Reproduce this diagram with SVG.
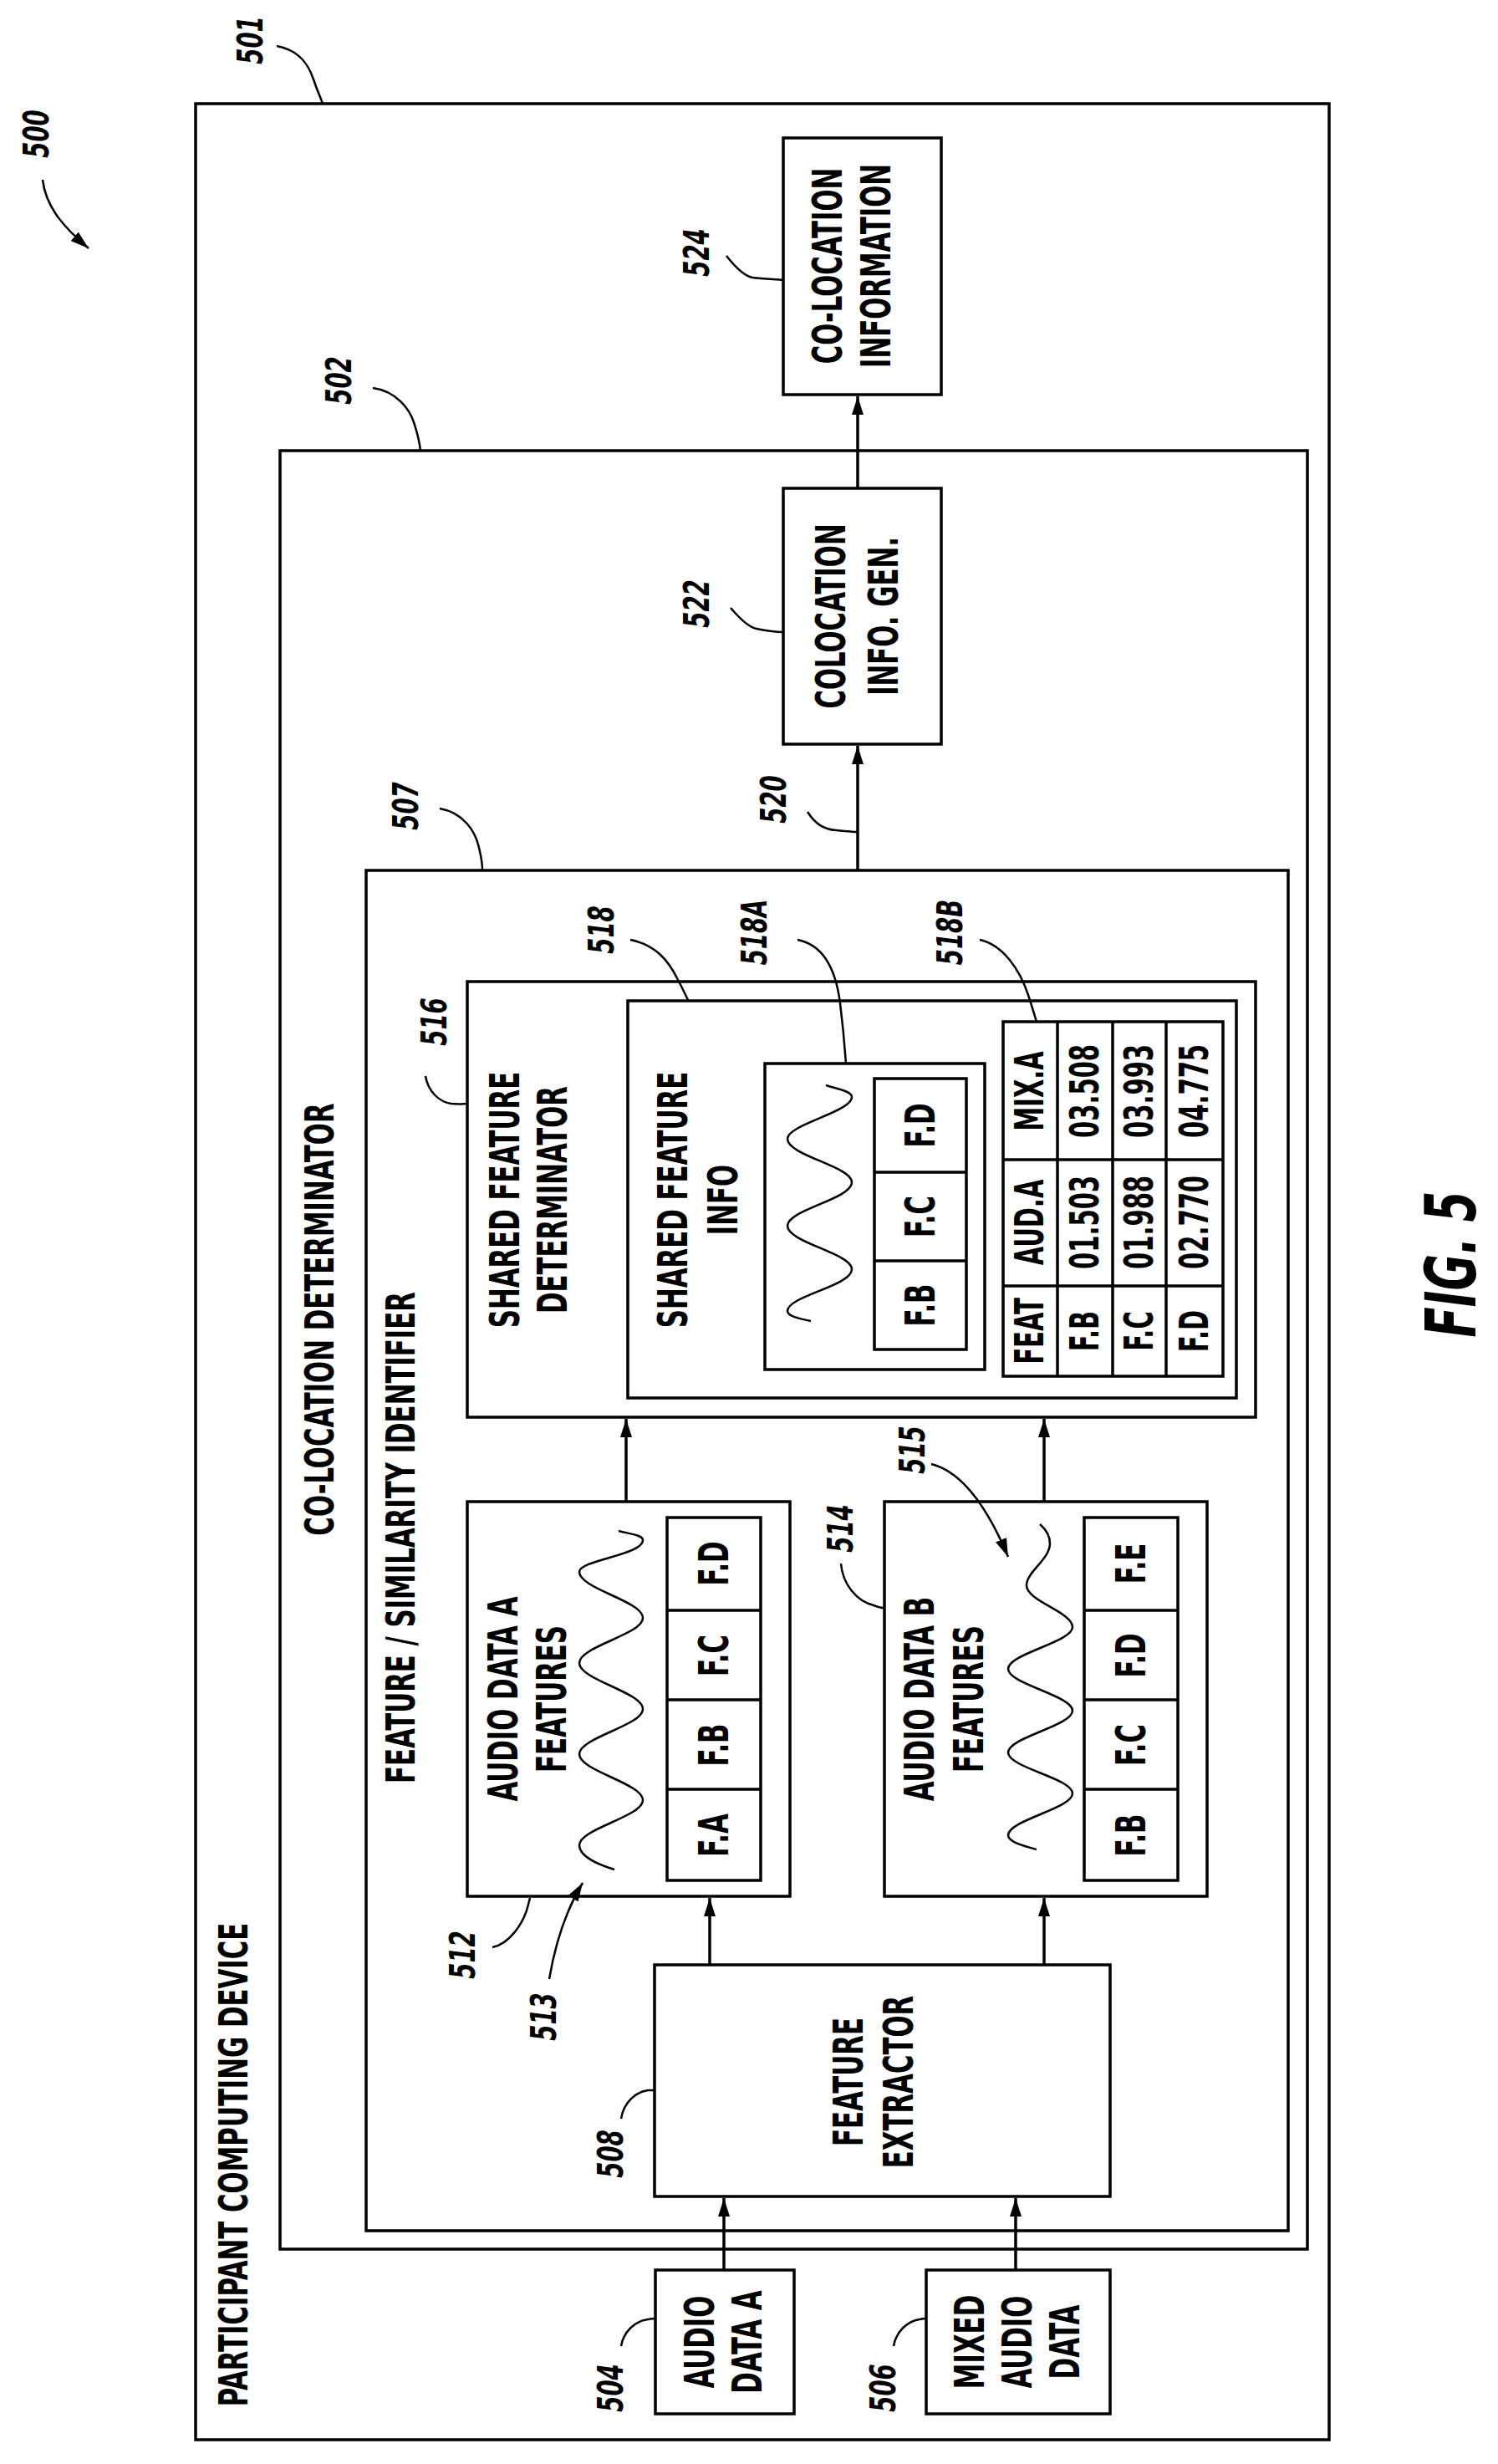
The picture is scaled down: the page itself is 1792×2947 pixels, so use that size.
<svg xmlns="http://www.w3.org/2000/svg" width="1792" height="2947" viewBox="0 0 1792 2947">
<style>
.b{fill:none;stroke:#000;stroke-width:3.5}
.c{fill:none;stroke:#000;stroke-width:2.5}
.t{font-family:"DejaVu Sans Condensed","DejaVu Sans",sans-serif;font-weight:bold;font-size:38px;text-anchor:middle;dominant-baseline:central;fill:#000}
.n{font-family:"DejaVu Sans Condensed","DejaVu Sans",sans-serif;font-weight:bold;font-style:italic;font-size:34px;text-anchor:middle;dominant-baseline:central;fill:#000}
</style>
<defs>
<marker id="ah" markerUnits="userSpaceOnUse" markerWidth="22" markerHeight="14" viewBox="0 0 22 14" refX="22" refY="7" orient="auto"><path d="M0,0 L22,7 L0,14 z" fill="#000"/></marker>
</defs>
<rect width="1792" height="2947" fill="#fff"/>

<g id="n501"><rect class="b" x="234" y="124" width="1356" height="2794"/>
<text class="t" transform="translate(280 2589) rotate(-90) scale(0.9 1.25)">PARTICIPANT COMPUTING DEVICE</text></g>
<g id="n502"><rect class="b" x="335" y="539" width="1229" height="2151"/>
<text class="t" transform="translate(383 1578) rotate(-90) scale(0.9 1.25)">CO-LOCATION DETERMINATOR</text></g>
<g id="n507"><rect class="b" x="438" y="1041" width="1103" height="1627"/>
<text class="t" transform="translate(480 1839) rotate(-90) scale(0.9 1.25)">FEATURE / SIMILARITY IDENTIFIER</text></g>

<g id="n524"><rect class="b" x="937" y="165" width="189" height="307"/>
<text class="t" transform="translate(990 318) rotate(-90) scale(0.9 1.3)">CO-LOCATION</text>
<text class="t" transform="translate(1048 318) rotate(-90) scale(0.9 1.3)">INFORMATION</text></g>
<g id="n522"><rect class="b" x="937" y="584" width="189" height="306"/>
<text class="t" transform="translate(994 737) rotate(-90) scale(0.9 1.3)">COLOCATION</text>
<text class="t" transform="translate(1057 737) rotate(-90) scale(0.9 1.3)">INFO. GEN.</text></g>

<g id="n516"><rect class="b" x="559" y="1174" width="943" height="521"/>
<text class="t" transform="translate(604 1435) rotate(-90) scale(0.9 1.3)">SHARED FEATURE</text>
<text class="t" transform="translate(661 1435) rotate(-90) scale(0.9 1.3)">DETERMINATOR</text></g>
<g id="n518"><rect class="b" x="751" y="1197" width="728" height="475"/>
<text class="t" transform="translate(805 1435) rotate(-90) scale(0.9 1.3)">SHARED FEATURE</text>
<text class="t" transform="translate(865 1435) rotate(-90) scale(0.9 1.3)">INFO</text></g>
<g id="n518A"><rect class="b" x="915" y="1272" width="263" height="366"/>
<path class="c" d="M988,1298 C1000,1302 1019,1305 1019,1312 C1019,1330 942,1345 942,1362 C942,1382 1019,1395 1019,1414 C1019,1434 942,1447 942,1466 C942,1486 1019,1499 1019,1518 C1019,1538 942,1550 942,1568 C942,1574 955,1577 970,1580"/>
<rect class="b" x="1046" y="1290" width="110" height="324"/>
<line class="b" x1="1046" y1="1402" x2="1156" y2="1402"/><line class="b" x1="1046" y1="1508" x2="1156" y2="1508"/>
<text class="t" transform="translate(1101 1346) rotate(-90) scale(0.9 1.3)">F.D</text>
<text class="t" transform="translate(1101 1455) rotate(-90) scale(0.9 1.3)">F.C</text>
<text class="t" transform="translate(1101 1561) rotate(-90) scale(0.9 1.3)">F.B</text></g>
<g id="n518B"><rect class="b" x="1200" y="1222" width="263" height="424"/>
<line class="b" x1="1265" y1="1222" x2="1265" y2="1646"/><line class="b" x1="1331" y1="1222" x2="1331" y2="1646"/><line class="b" x1="1395" y1="1222" x2="1395" y2="1646"/>
<line class="b" x1="1200" y1="1387" x2="1463" y2="1387"/><line class="b" x1="1200" y1="1538" x2="1463" y2="1538"/>
<text class="t" transform="translate(1232 1592) rotate(-90) scale(0.85 1.25)">FEAT</text>
<text class="t" transform="translate(1232 1462) rotate(-90) scale(0.85 1.25)">AUD.A</text>
<text class="t" transform="translate(1232 1305) rotate(-90) scale(0.85 1.25)">MIX.A</text>
<text class="t" transform="translate(1298 1592) rotate(-90) scale(0.85 1.25)">F.B</text>
<text class="t" transform="translate(1298 1462) rotate(-90) scale(0.85 1.25)">01.503</text>
<text class="t" transform="translate(1298 1305) rotate(-90) scale(0.85 1.25)">03.508</text>
<text class="t" transform="translate(1363 1592) rotate(-90) scale(0.85 1.25)">F.C</text>
<text class="t" transform="translate(1363 1462) rotate(-90) scale(0.85 1.25)">01.988</text>
<text class="t" transform="translate(1363 1305) rotate(-90) scale(0.85 1.25)">03.993</text>
<text class="t" transform="translate(1429 1592) rotate(-90) scale(0.85 1.25)">F.D</text>
<text class="t" transform="translate(1429 1462) rotate(-90) scale(0.85 1.25)">02.770</text>
<text class="t" transform="translate(1429 1305) rotate(-90) scale(0.85 1.25)">04.775</text></g>

<g id="n512"><rect class="b" x="559" y="1796" width="386" height="472"/>
<text class="t" transform="translate(602 2032) rotate(-90) scale(0.9 1.3)">AUDIO DATA A</text>
<text class="t" transform="translate(660 2032) rotate(-90) scale(0.9 1.3)">FEATURES</text>
<path class="c" d="M740,1831 C755,1835 769,1836 769,1842 C769,1860 693,1866 693,1880 C693,1900 769,1915 769,1935 C769,1955 693,1969 693,1989 C693,2009 769,2024 769,2044 C769,2064 693,2078 693,2098 C693,2118 769,2133 769,2153 C769,2173 693,2187 693,2207 C693,2220 715,2230 735,2236"/>
<rect class="b" x="798" y="1815" width="112" height="434"/>
<line class="b" x1="798" y1="1926" x2="910" y2="1926"/><line class="b" x1="798" y1="2033" x2="910" y2="2033"/><line class="b" x1="798" y1="2140" x2="910" y2="2140"/>
<text class="t" transform="translate(854 1870) rotate(-90) scale(0.9 1.3)">F.D</text>
<text class="t" transform="translate(854 1980) rotate(-90) scale(0.9 1.3)">F.C</text>
<text class="t" transform="translate(854 2087) rotate(-90) scale(0.9 1.3)">F.B</text>
<text class="t" transform="translate(854 2195) rotate(-90) scale(0.9 1.3)">F.A</text></g>

<g id="n514"><rect class="b" x="1058" y="1796" width="386" height="472"/>
<text class="t" transform="translate(1100 2032) rotate(-90) scale(0.9 1.3)">AUDIO DATA B</text>
<text class="t" transform="translate(1159 2032) rotate(-90) scale(0.9 1.3)">FEATURES</text>
<path class="c" d="M1244,1823 C1252,1830 1256,1838 1256,1846 C1256,1865 1228,1880 1228,1896 C1228,1915 1283,1928 1283,1946 C1283,1964 1206,1978 1206,1996 C1206,2014 1283,2028 1283,2046 C1283,2064 1206,2078 1206,2096 C1206,2114 1283,2127 1283,2145 C1283,2163 1206,2177 1206,2195 C1206,2203 1225,2208 1240,2212"/>
<rect class="b" x="1297" y="1815" width="112" height="434"/>
<line class="b" x1="1297" y1="1926" x2="1409" y2="1926"/><line class="b" x1="1297" y1="2033" x2="1409" y2="2033"/><line class="b" x1="1297" y1="2140" x2="1409" y2="2140"/>
<text class="t" transform="translate(1353 1870) rotate(-90) scale(0.9 1.3)">F.E</text>
<text class="t" transform="translate(1353 1980) rotate(-90) scale(0.9 1.3)">F.D</text>
<text class="t" transform="translate(1353 2087) rotate(-90) scale(0.9 1.3)">F.C</text>
<text class="t" transform="translate(1353 2195) rotate(-90) scale(0.9 1.3)">F.B</text></g>

<g id="n508"><rect class="b" x="783" y="2350" width="545" height="277"/>
<text class="t" transform="translate(1015 2490) rotate(-90) scale(0.9 1.3)">FEATURE</text>
<text class="t" transform="translate(1075 2490) rotate(-90) scale(0.9 1.3)">EXTRACTOR</text></g>
<g id="n504"><rect class="b" x="784" y="2715" width="166" height="172"/>
<text class="t" transform="translate(837 2801) rotate(-90) scale(0.9 1.3)">AUDIO</text>
<text class="t" transform="translate(894 2801) rotate(-90) scale(0.9 1.3)">DATA A</text></g>
<g id="n506"><rect class="b" x="1108" y="2715" width="220" height="172"/>
<text class="t" transform="translate(1160 2801) rotate(-90) scale(0.9 1.3)">MIXED</text>
<text class="t" transform="translate(1217 2801) rotate(-90) scale(0.9 1.3)">AUDIO</text>
<text class="t" transform="translate(1274 2801) rotate(-90) scale(0.9 1.3)">DATA</text></g>

<g id="connectors">
<line class="b" x1="866" y1="2715" x2="866" y2="2629" marker-end="url(#ah)"/>
<line class="b" x1="1215" y1="2715" x2="1215" y2="2629" marker-end="url(#ah)"/>
<line class="b" x1="849" y1="2350" x2="849" y2="2270" marker-end="url(#ah)"/>
<line class="b" x1="1249" y1="2350" x2="1249" y2="2270" marker-end="url(#ah)"/>
<line class="b" x1="749" y1="1796" x2="749" y2="1697" marker-end="url(#ah)"/>
<line class="b" x1="1249" y1="1796" x2="1249" y2="1697" marker-end="url(#ah)"/>
<line class="b" x1="1026" y1="1041" x2="1026" y2="892" marker-end="url(#ah)"/>
<line class="b" x1="1026" y1="584" x2="1026" y2="474" marker-end="url(#ah)"/>
</g>

<g id="labels">
<text class="n" transform="translate(44 160) rotate(-90) scale(0.9 1.25)">500</text>
<path class="c" d="M51,215 C55,250 80,275 106,297" marker-end="url(#ah)"/>
<text class="n" transform="translate(300 48) rotate(-90) scale(0.9 1.25)">501</text>
<path class="c" d="M331,55 C360,60 370,80 375,95 C380,110 384,118 386,124"/>
<text class="n" transform="translate(406 455) rotate(-90) scale(0.9 1.25)">502</text>
<path class="c" d="M446,464 C475,468 490,490 495,505 C500,520 502,530 503,539"/>
<text class="n" transform="translate(834 302) rotate(-90) scale(0.9 1.25)">524</text>
<path class="c" d="M869,306 C880,320 890,330 900,332 C915,334 930,334 937,335"/>
<text class="n" transform="translate(834 722) rotate(-90) scale(0.9 1.25)">522</text>
<path class="c" d="M874,727 C885,740 895,750 905,752 C920,755 930,756 937,756"/>
<text class="n" transform="translate(486 964) rotate(-90) scale(0.9 1.25)">507</text>
<path class="c" d="M526,967 C555,972 568,995 572,1010 C576,1025 577,1035 577,1041"/>
<text class="n" transform="translate(926 956) rotate(-90) scale(0.9 1.25)">520</text>
<path class="c" d="M966,971 C975,985 985,992 1000,993 C1010,994 1020,995 1026,995"/>
<text class="n" transform="translate(520 1222) rotate(-90) scale(0.9 1.25)">516</text>
<path class="c" d="M509,1287 C512,1305 525,1318 540,1320 C550,1321 555,1320 558,1320"/>
<text class="n" transform="translate(720 1112) rotate(-90) scale(0.9 1.25)">518</text>
<path class="c" d="M754,1124 C785,1130 800,1150 810,1170 C818,1185 821,1192 823,1196"/>
<text class="n" transform="translate(903 1115) rotate(-90) scale(0.9 1.25)">518A</text>
<path class="c" d="M954,1124 C985,1130 1000,1160 1005,1200 C1010,1240 1011,1260 1012,1273"/>
<text class="n" transform="translate(1137 1115) rotate(-90) scale(0.9 1.25)">518B</text>
<path class="c" d="M1172,1124 C1200,1130 1220,1160 1230,1190 C1236,1208 1238,1216 1240,1222"/>
<text class="n" transform="translate(554 2338) rotate(-90) scale(0.9 1.25)">512</text>
<path class="c" d="M589,2329 C610,2325 625,2300 630,2285 C632,2278 633,2274 634,2270"/>
<text class="n" transform="translate(651 2412) rotate(-90) scale(0.9 1.25)">513</text>
<path class="c" d="M657,2367 C665,2320 680,2280 697,2252" marker-end="url(#ah)"/>
<text class="n" transform="translate(731 2576) rotate(-90) scale(0.9 1.25)">508</text>
<path class="c" d="M743,2534 C746,2515 760,2502 775,2500 C780,2500 782,2500 783,2500"/>
<text class="n" transform="translate(1006 1828) rotate(-90) scale(0.9 1.25)">514</text>
<path class="c" d="M1006,1870 C1008,1895 1025,1915 1045,1920 C1050,1922 1055,1923 1057,1923"/>
<text class="n" transform="translate(1092 1734) rotate(-90) scale(0.9 1.25)">515</text>
<path class="c" d="M1114,1751 C1150,1760 1180,1800 1206,1862" marker-end="url(#ah)"/>
<text class="n" transform="translate(731 2856) rotate(-90) scale(0.9 1.25)">504</text>
<path class="c" d="M743,2806 C746,2788 760,2776 775,2774 C780,2773 782,2773 784,2773"/>
<text class="n" transform="translate(1057 2856) rotate(-90) scale(0.9 1.25)">506</text>
<path class="c" d="M1069,2806 C1072,2788 1086,2776 1100,2774 C1104,2773 1106,2773 1108,2773"/>
<text class="n" style="font-size:62px" transform="translate(1736 1512) rotate(-90) scale(0.95 1.35)">FIG. 5</text>
</g>
</svg>
